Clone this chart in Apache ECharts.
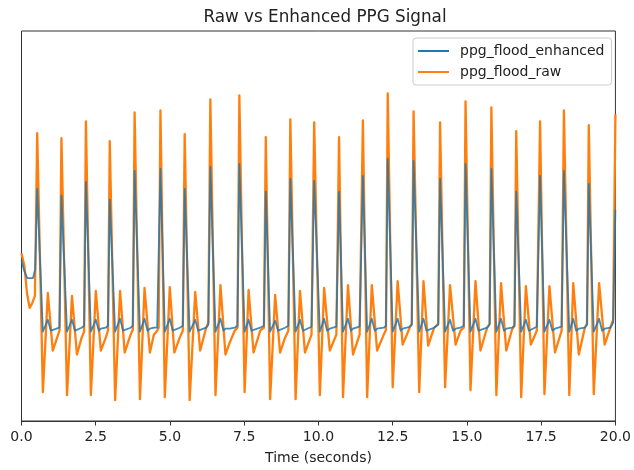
<!DOCTYPE html>
<html>
<head>
<meta charset="utf-8">
<script src="https://cdn.jsdelivr.net/npm/echarts@6/dist/echarts.min.js"></script>
<style>
html,body{margin:0;padding:0;background:#fff;}
#chart{width:634px;height:470px;}
</style>
</head>
<body>
<div id="chart"></div>
<script>
// Time stamps (seconds) and amplitudes
var rawTime = [
0.000,0.100,0.184,0.274,0.351,0.452,0.529,
0.720,0.887,1.054,1.278,1.345,
1.533,1.700,1.867,2.025,2.108,2.169,
2.336,2.503,2.671,2.838,2.912,2.972,
3.153,3.320,3.474,3.675,3.748,3.809,
3.989,4.143,4.324,4.458,4.568,4.618,4.679,
4.826,4.993,5.147,5.328,5.432,5.495,
5.663,5.850,6.017,6.218,6.292,6.359,
6.533,6.700,6.868,7.011,7.179,7.272,7.336,
7.513,7.647,7.814,8.039,8.163,8.226,
8.373,8.541,8.708,8.875,8.986,9.053,
9.230,9.378,9.545,9.766,9.856,
10.047,10.191,10.382,10.603,10.693,
10.827,10.994,11.162,11.386,11.496,
11.640,11.797,11.975,12.199,12.273,12.333,
12.500,12.667,12.835,12.979,13.069,13.142,13.203,
13.393,13.537,13.695,13.895,14.033,14.096,
14.264,14.431,14.618,14.786,14.893,14.953,
15.120,15.288,15.455,15.680,15.763,15.823,
15.991,16.148,16.325,16.516,16.600,16.660,
16.827,16.985,17.152,17.353,17.463,
17.610,17.778,17.965,18.189,18.266,
18.447,18.580,18.768,18.969,19.043,19.103,
19.270,19.451,19.638,19.829,19.923,20.000
];
var rawValue = [
0.76,0.63,0.36,0.21,0.25,0.33,1.97,
-0.64,0.36,-0.22,-0.02,1.92,
-0.67,0.33,-0.26,-0.09,-0.03,2.09,
-0.67,0.38,-0.22,-0.09,-0.02,1.89,
-0.72,0.38,-0.24,-0.06,-0.01,2.18,
-0.71,0.41,-0.24,-0.06,-0.02,0.01,2.20,
-0.69,0.42,-0.24,-0.09,-0.02,1.96,
-0.72,0.37,-0.22,0.01,0.06,2.31,
-0.67,0.44,-0.26,-0.14,-0.02,0.01,2.35,
-0.64,0.39,-0.24,-0.02,0.01,1.93,
-0.71,0.34,-0.24,-0.09,-0.02,2.11,
-0.71,0.38,-0.24,-0.06,2.08,
-0.67,0.41,-0.22,-0.06,1.93,
-0.69,0.44,-0.26,-0.06,2.10,
-0.69,0.44,-0.22,-0.06,-0.01,2.37,
-0.59,0.48,-0.16,-0.06,0.01,0.05,2.19,
-0.64,0.48,-0.17,0.01,0.05,2.08,
-0.59,0.44,-0.16,-0.02,0.01,2.29,
-0.62,0.48,-0.22,0.01,0.05,2.23,
-0.67,0.46,-0.22,-0.01,0.03,1.99,
-0.69,0.43,-0.16,-0.02,2.09,
-0.66,0.43,-0.24,-0.02,2.20,
-0.67,0.46,-0.26,0.01,0.05,2.05,
-0.66,0.46,-0.16,0.01,0.09,2.16
];
var enhTime = [
0.000,0.084,0.194,0.385,0.462,0.529,
0.720,0.887,0.987,1.054,1.278,1.345,
1.533,1.700,1.800,1.867,2.025,2.108,2.169,
2.336,2.503,2.603,2.671,2.838,2.912,2.972,
3.153,3.320,3.420,3.474,3.675,3.748,3.809,
3.989,4.143,4.243,4.324,4.458,4.568,4.618,4.679,
4.826,4.993,5.093,5.147,5.328,5.432,5.495,
5.663,5.850,5.950,6.017,6.218,6.292,6.359,
6.533,6.700,6.800,6.868,7.011,7.179,7.272,7.336,
7.513,7.647,7.747,7.814,8.039,8.163,8.226,
8.373,8.541,8.641,8.708,8.875,8.986,9.053,
9.230,9.378,9.478,9.545,9.766,9.856,
10.047,10.191,10.291,10.382,10.603,10.693,
10.827,10.994,11.094,11.162,11.386,11.496,
11.640,11.797,11.897,11.975,12.199,12.273,12.333,
12.500,12.667,12.767,12.835,12.979,13.069,13.142,13.203,
13.393,13.537,13.637,13.695,13.895,14.033,14.096,
14.264,14.431,14.531,14.618,14.786,14.893,14.953,
15.120,15.288,15.388,15.455,15.680,15.763,15.823,
15.991,16.148,16.248,16.325,16.516,16.600,16.660,
16.827,16.985,17.085,17.152,17.353,17.463,
17.610,17.778,17.878,17.965,18.189,18.266,
18.447,18.580,18.680,18.768,18.969,19.043,19.103,
19.270,19.451,19.551,19.638,19.829,19.923,20.000
];
var enhValue = [
0.69,0.59,0.51,0.51,0.60,1.41,
-0.03,0.09,-0.02,0.00,0.01,1.34,
-0.03,0.09,-0.02,0.00,0.01,0.03,1.48,
-0.03,0.09,-0.02,0.00,0.01,0.03,1.30,
-0.03,0.10,-0.02,0.00,0.01,0.03,1.59,
-0.03,0.10,-0.02,0.00,0.01,0.01,0.03,1.61,
-0.03,0.10,-0.02,0.00,0.01,0.03,1.41,
-0.03,0.09,-0.02,0.00,0.01,0.04,1.63,
-0.03,0.10,-0.02,0.00,0.00,0.01,0.03,1.66,
-0.03,0.09,-0.02,0.00,0.01,0.03,1.38,
-0.03,0.08,-0.02,0.00,0.01,0.03,1.51,
-0.03,0.09,-0.02,0.00,0.02,1.49,
-0.03,0.10,-0.02,0.00,0.02,1.38,
-0.03,0.10,-0.02,0.00,0.02,1.54,
-0.03,0.10,-0.02,0.00,0.01,0.03,1.71,
-0.03,0.10,-0.02,0.00,0.01,0.02,0.04,1.69,
-0.03,0.10,-0.02,0.00,0.01,0.04,1.51,
-0.03,0.09,-0.02,0.00,0.01,0.03,1.66,
-0.03,0.10,-0.02,0.00,0.01,0.04,1.61,
-0.03,0.10,-0.02,0.00,0.01,0.03,1.38,
-0.03,0.09,-0.02,0.00,0.02,1.54,
-0.03,0.09,-0.02,0.00,0.02,1.59,
-0.03,0.10,-0.02,0.00,0.01,0.04,1.46,
-0.03,0.10,-0.02,0.00,0.01,0.06,1.20
];
var seriesNames = ['ppg_flood_enhanced', 'ppg_flood_raw'];
var xTicks = [0, 2.5, 5, 7.5, 10, 12.5, 15, 17.5, 20];

function zip(a, b) { var o = []; for (var i = 0; i < Math.min(a.length, b.length); i++) o.push([a[i], b[i]]); return o; }

var FONT = 'DejaVu Sans';
var blue = '#1f77b4', orange = '#ff7f0e';
var chart = echarts.init(document.getElementById('chart'), null, {renderer: 'canvas'});
chart.setOption({
  animation: false,
  backgroundColor: '#fff',
  title: {
    text: 'Raw vs Enhanced PPG Signal',
    left: 320, top: 4, textAlign: 'center',
    textStyle: {fontFamily: FONT, fontSize: 16.8, fontWeight: 'normal', color: '#222'}
  },
  legend: {
    orient: 'vertical', left: 413, top: 38,
    padding: [6, 7, 6, 5], itemGap: 7,
    itemWidth: 31, itemHeight: 2, icon: 'rect',
    borderColor: '#cccccc', borderWidth: 1, borderRadius: 3,
    backgroundColor: 'rgba(255,255,255,0.8)',
    textStyle: {fontFamily: FONT, fontSize: 14, color: '#222', lineHeight: 14, padding: [0, 0, 0, 6]},
    data: [
      {name: seriesNames[0], itemStyle: {color: blue}},
      {name: seriesNames[1], itemStyle: {color: orange}}
    ]
  },
  grid: {left: 21.5, right: 15, top: 31, bottom: 46, show: true, borderColor: '#333', borderWidth: 1},
  xAxis: {
    type: 'value', min: xTicks[0], max: xTicks[xTicks.length - 1], interval: 2.5,
    axisLine: {show: true, onZero: false, lineStyle: {color: '#333'}},
    axisTick: {show: true, length: 4.5, lineStyle: {color: '#333'}},
    axisLabel: {fontFamily: FONT, fontSize: 14, color: '#222', margin: 9, formatter: function (v) { return v.toFixed(1); }},
    splitLine: {show: false},
    name: 'Time (seconds)', nameLocation: 'middle', nameGap: 30,
    nameTextStyle: {fontFamily: FONT, fontSize: 14, color: '#222'}
  },
  yAxis: {
    type: 'value', min: -0.93, max: 3.0,
    axisLine: {show: false}, axisTick: {show: false}, axisLabel: {show: false}, splitLine: {show: false}
  },
  series: [
    {
      name: seriesNames[1], type: 'line', data: zip(rawTime, rawValue), showSymbol: false, z: 2,
      lineStyle: {color: orange, width: 2.3, join: 'round'}, itemStyle: {color: orange}
    },
    {
      name: seriesNames[0], type: 'line', data: zip(enhTime, enhValue), showSymbol: false, z: 3,
      lineStyle: {color: blue, width: 1.8, opacity: 0.85, join: 'round'}, itemStyle: {color: blue}
    }
  ]
});
</script>
</body>
</html>
